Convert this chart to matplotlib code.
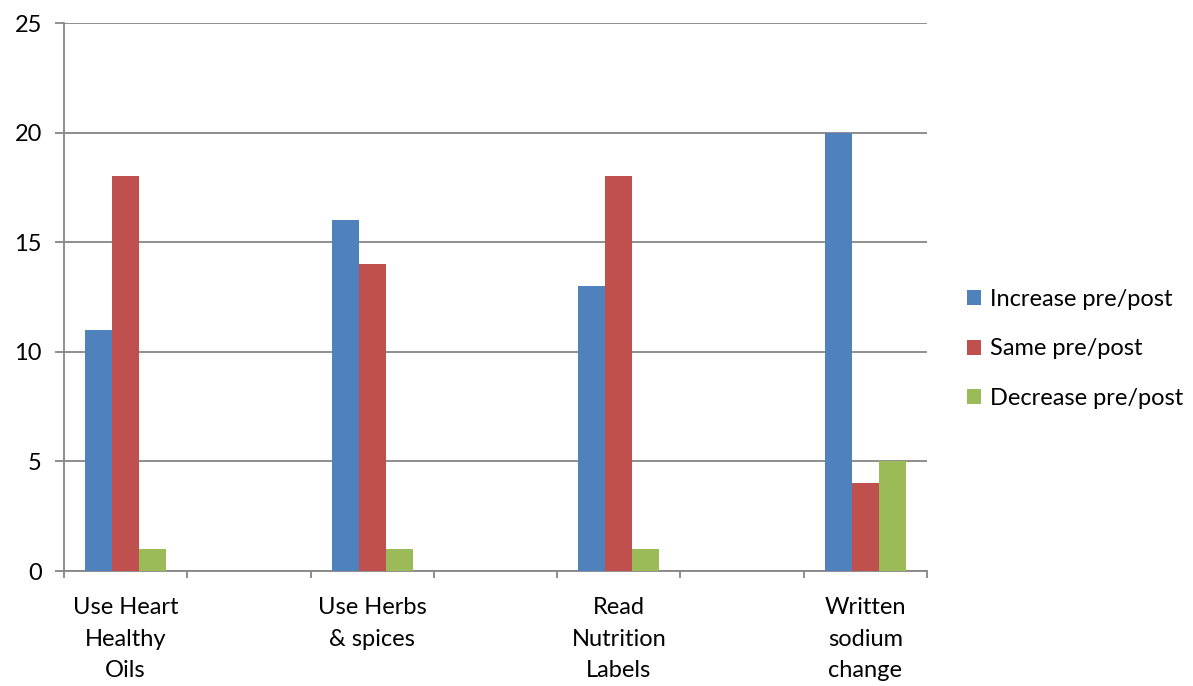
import matplotlib
matplotlib.use("Agg")
import matplotlib.pyplot as plt
import numpy as np

categories = ["Use Heart\nHealthy\nOils", "", "Use Herbs\n& spices", "", "Read\nNutrition\nLabels", "", "Written\nsodium\nchange"]
increase = [11, 0, 16, 0, 13, 0, 20]
same = [18, 0, 14, 0, 18, 0, 4]
decrease = [1, 0, 1, 0, 1, 0, 5]
series_names = ["Increase pre/post", "Same pre/post", "Decrease pre/post"]
colors = ["#4F81BD", "#C0504D", "#9BBB59"]
yticks = [0, 5, 10, 15, 20, 25]

plt.rcParams['font.family'] = ['Lato', 'DejaVu Sans']
FS = 17

fig = plt.figure(figsize=(11.93, 6.86), dpi=100)
ax = fig.add_axes([64/1193, 1-571/686, (927-64)/1193, (571-23)/686])

x = np.arange(len(categories))
w = 0.219
for i, (vals, name, c) in enumerate(zip([increase, same, decrease], series_names, colors)):
    vals = np.array(vals, dtype=float)
    vals[vals == 0] = np.nan
    ax.bar(x + (i-1)*w, vals, width=w, color=c, label=name, zorder=3)

ax.set_xlim(-0.5, len(categories)-0.5)
ax.set_ylim(0, 25)
ax.set_yticks(yticks)
ax.set_yticklabels([str(t) for t in yticks], fontsize=FS)
ax.set_xticks(np.arange(-0.5, len(categories)))
ax.set_xticklabels([])
ax.set_xticks(x, minor=True)
ax.set_xticklabels(categories, minor=True, fontsize=FS, linespacing=1.6, va='top')
ax.tick_params(axis='x', which='minor', length=0, pad=19)
ax.tick_params(axis='x', which='major', length=5, width=1.3, color='#868686', direction='out')
ax.tick_params(axis='y', length=6.5, width=1.3, color='#868686', direction='out', pad=9.5)
ax.yaxis.grid(True, color='#868686', linewidth=1.3, zorder=0)
ax.set_axisbelow(True)
for s in ['top', 'right']:
    ax.spines[s].set_visible(False)
for s in ['left', 'bottom']:
    ax.spines[s].set_color('#868686')
    ax.spines[s].set_linewidth(1.3)

handles, labels = ax.get_legend_handles_labels()
fig.legend(handles, labels, loc='center left', bbox_to_anchor=(946/1193, 1-349/686),
           frameon=False, fontsize=FS, handlelength=0.6, handleheight=0.6,
           handletextpad=0.35, labelspacing=1.2)

fig.savefig("out.png", dpi=100)
